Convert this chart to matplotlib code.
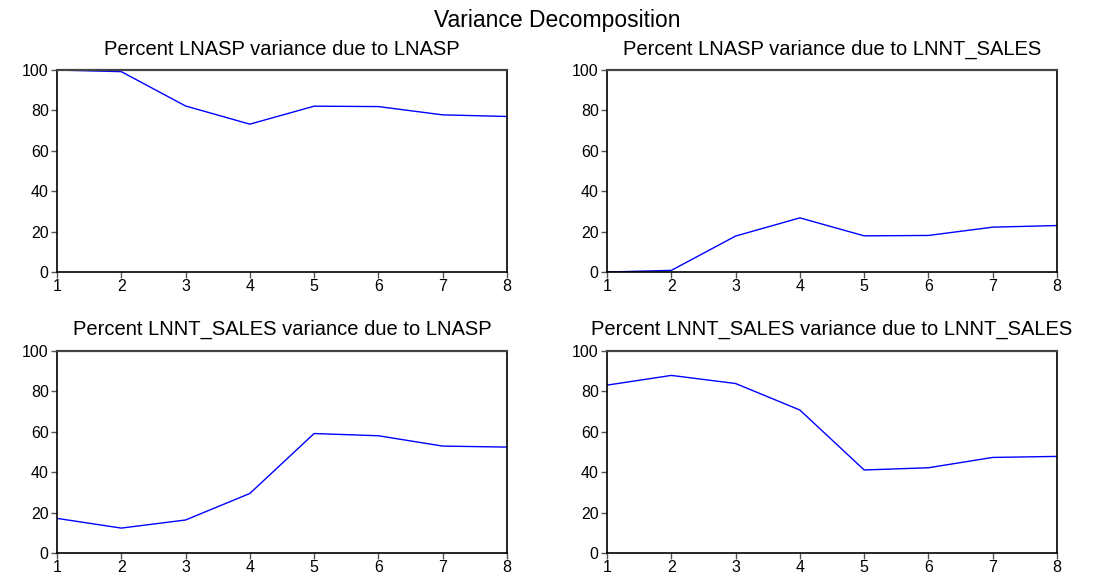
import numpy as np
import matplotlib.pyplot as plt

plt.rcParams['font.family'] = ['Liberation Sans', 'DejaVu Sans']

periods = [1, 2, 3, 4, 5, 6, 7, 8]
lnasp_due_lnasp = [100.0, 99.2, 82.2, 73.2, 82.1, 81.9, 77.8, 77.0]
lnasp_due_sales = [0.0, 0.8, 17.8, 26.8, 17.9, 18.1, 22.2, 23.0]
sales_due_lnasp = [17.1, 12.3, 16.3, 29.4, 59.0, 57.9, 52.8, 52.3]
sales_due_sales = [82.9, 87.7, 83.7, 70.6, 41.0, 42.1, 47.2, 47.7]

titles = ['Percent LNASP variance due to LNASP',
          'Percent LNASP variance due to LNNT_SALES',
          'Percent LNNT_SALES variance due to LNASP',
          'Percent LNNT_SALES variance due to LNNT_SALES']
series = [lnasp_due_lnasp, lnasp_due_sales, sales_due_lnasp, sales_due_sales]

fig = plt.figure(figsize=(11.11, 5.73), dpi=100)
fig.suptitle('Variance Decomposition', fontsize=16.5, x=0.5015, y=0.985)

# axes boxes: left, bottom, width, height
boxes = [[0.0513, 0.5253, 0.405, 0.3525],
         [0.5464, 0.5253, 0.405, 0.3525],
         [0.0513, 0.0349, 0.405, 0.3534],
         [0.5464, 0.0349, 0.405, 0.3534]]

for box, ttl, vals in zip(boxes, titles, series):
    ax = fig.add_axes(box)
    ax.plot(periods, vals, color='#0000ff', lw=1)
    ax.set_xlim(1, 8)
    ax.set_ylim(0, 100)
    ax.set_xticks(periods)
    ax.set_yticks([0, 20, 40, 60, 80, 100])
    ax.set_title(ttl, fontsize=14.5, pad=11)
    ax.tick_params(direction='out', length=4, width=1, labelsize=11.5,
                   color='#555555', pad=2)
    ax.tick_params(axis='x', pad=1)
    for s in ax.spines.values():
        s.set_linewidth(1.2)
        s.set_color('black')
    ax.spines['top'].set_color('#444444')
    ax.spines['top'].set_linewidth(1.6)

plt.savefig('out.png', dpi=100)
